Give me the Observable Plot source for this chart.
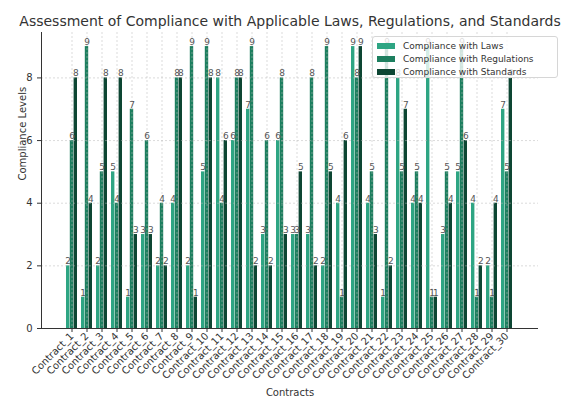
<!DOCTYPE html>
<html>
<head>
<meta charset="utf-8">
<script src="https://cdn.jsdelivr.net/npm/d3@7"></script>
<script src="https://cdn.jsdelivr.net/npm/@observablehq/plot@0.6"></script>
<style>
  body { margin: 0; background: #fff; font-family: "DejaVu Sans", sans-serif; }
  #chart { position: relative; width: 566px; height: 397px; }
  .legend {
    position: absolute; left: 372px; top: 36px; width: 186px; height: 42px;
    background: rgba(255,255,255,0.8); border: 1px solid #d6d6d6; border-radius: 3px;
    box-sizing: border-box; font-size: 9px; color: #333;
  }
  .legend .row { position: absolute; left: 4px; height: 12px; display: flex; align-items: center; }
  .legend .sw { width: 18px; height: 6px; margin-right: 8px; }
</style>
</head>
<body>
<div id="chart"></div>
<script>
const contracts = [
  "Contract_1", "Contract_2", "Contract_3", "Contract_4", "Contract_5",
  "Contract_6", "Contract_7", "Contract_8", "Contract_9", "Contract_10",
  "Contract_11", "Contract_12", "Contract_13", "Contract_14", "Contract_15",
  "Contract_16", "Contract_17", "Contract_18", "Contract_19", "Contract_20",
  "Contract_21", "Contract_22", "Contract_23", "Contract_24", "Contract_25",
  "Contract_26", "Contract_27", "Contract_28", "Contract_29", "Contract_30"
];
const laws        = [2, 1, 2, 5, 1, 3, 2, 4, 2, 5, 8, 6, 7, 3, 6, 3, 3, 2, 4, 9, 4, 1, 8, 4, 9, 3, 5, 4, 2, 7];
const regulations = [6, 9, 5, 4, 7, 6, 4, 8, 9, 9, 4, 8, 9, 6, 8, 3, 8, 9, 1, 8, 5, 9, 5, 5, 1, 5, 9, 1, 1, 5];
const standards   = [8, 4, 8, 8, 3, 3, 2, 8, 1, 8, 6, 8, 2, 2, 3, 5, 2, 5, 6, 9, 3, 2, 7, 4, 1, 4, 6, 2, 4, 8];
const seriesNames = ["Compliance with Laws", "Compliance with Regulations", "Compliance with Standards"];
const seriesColors = ["#2ea583", "#1d7f5f", "#0d4633"];
const yTicks = [0, 2, 4, 6, 8];

const seriesValues = [laws, regulations, standards];
const rows = contracts.flatMap((c, i) =>
  seriesNames.map((s, k) => ({contract: c, series: s, k, value: seriesValues[k][i]}))
);

// Layout
const W = 566, H = 397;
const mL = 41, mR = 28, mT = 32, mB = 69;
const padIn = 0.25, padOut = 1.45;
const step = (W - mL - mR) / (contracts.length - padIn + 2 * padOut);
const bw = step * (1 - padIn);   // width of a group of three bars
const sub = bw / 3;              // width of a single bar

const marks = [];
seriesNames.forEach((s, k) => {
  marks.push(Plot.barY(rows, {
    filter: d => d.k === k, x: "contract", y: "value",
    fill: seriesColors[k], insetLeft: k * sub, insetRight: (2 - k) * sub
  }));
});
marks.push(Plot.gridY([2, 4, 6, 8], {stroke: "#b8b8b8", strokeOpacity: 0.5, strokeDasharray: "2,2"}));
marks.push(Plot.gridX(contracts, {stroke: "#b8b8b8", strokeOpacity: 0.5, strokeDasharray: "2,2"}));
seriesNames.forEach((s, k) => {
  marks.push(Plot.text(rows, {
    filter: d => d.k === k, x: "contract", y: "value", text: d => String(d.value),
    dx: (k - 1) * sub, dy: -1.5, lineAnchor: "bottom", fontSize: 9, fill: "#555"
  }));
});
marks.push(Plot.ruleY([0], {stroke: "#333"}));
marks.push(Plot.frame({anchor: "left", stroke: "#333"}));
marks.push(Plot.axisY({ticks: yTicks, tickSize: 4, fontSize: 10, color: "#333", label: null}));
marks.push(Plot.axisX({tickSize: 4, tickRotate: -45, fontSize: 10, color: "#333", label: null, tickPadding: 2}));
marks.push(Plot.text(["Assessment of Compliance with Applicable Laws, Regulations, and Standards"], {
  frameAnchor: "top", dy: -11, fontSize: 14, fill: "#333", lineAnchor: "middle"
}));
marks.push(Plot.text(["Compliance Levels"], {
  frameAnchor: "left", dx: -19, rotate: -90, fontSize: 10, fill: "#333", lineAnchor: "middle"
}));
marks.push(Plot.text(["Contracts"], {
  frameAnchor: "bottom", dy: 64, fontSize: 10, fill: "#333", lineAnchor: "middle"
}));

const chart = Plot.plot({
  width: W, height: H,
  marginLeft: mL, marginRight: mR, marginTop: mT, marginBottom: mB,
  style: {fontFamily: "DejaVu Sans, sans-serif", fontSize: "10px", background: "#fff", overflow: "visible"},
  x: {type: "band", domain: contracts, paddingInner: padIn, paddingOuter: padOut, align: 0.5},
  y: {domain: [0, 9.45]},
  marks
});
const host = document.getElementById("chart");
host.appendChild(chart);

// Legend drawn over the upper right of the plot area
const legend = document.createElement("div");
legend.className = "legend";
seriesNames.forEach((s, k) => {
  const row = document.createElement("div");
  row.className = "row";
  row.style.top = (3 + k * 12.8) + "px";
  const sw = document.createElement("span");
  sw.className = "sw";
  sw.style.background = seriesColors[k];
  const t = document.createElement("span");
  t.textContent = s;
  row.appendChild(sw);
  row.appendChild(t);
  legend.appendChild(row);
});
host.appendChild(legend);
</script>
</body>
</html>
